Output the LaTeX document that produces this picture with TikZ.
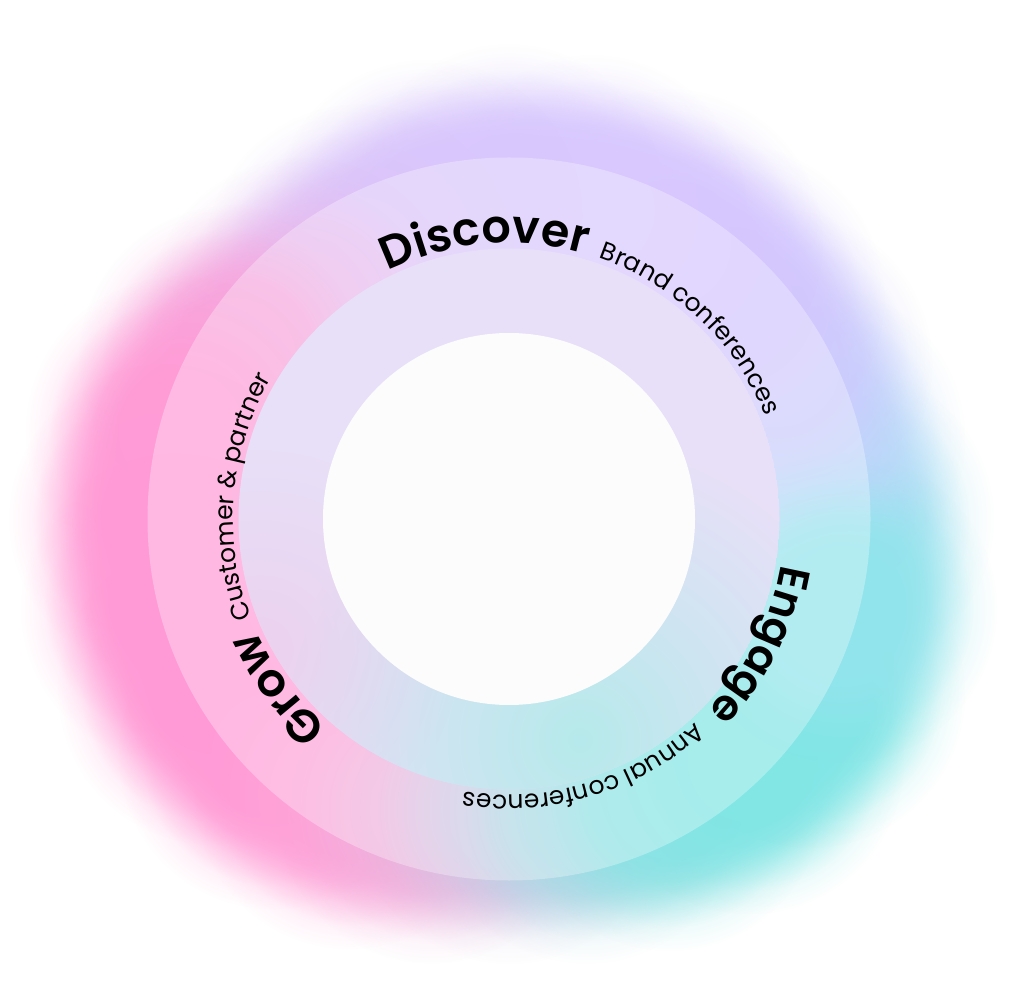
\documentclass[tikz,border=0pt]{standalone}
\usepackage{fontspec}
\setmainfont{Poppins}[BoldFont={Poppins SemiBold}]
\usetikzlibrary{decorations.text,fadings}

\pgfdeclareradialshading{blobsh}{\pgfpointorigin}{color(0bp)=(white); color(10bp)=(white); color(13.75bp)=(white!82!black); color(17.5bp)=(white!45!black); color(21.25bp)=(white!13!black); color(25bp)=(black); color(50bp)=(black)}
\pgfdeclarefading{blob}{\pgfuseshading{blobsh}}
\tikzfading[name=soft, inner color=transparent!0, outer color=transparent!100]

\definecolor{g0}{HTML}{A6E2F2}
\definecolor{g15}{HTML}{BCD8FA}
\definecolor{g30}{HTML}{CCCDFD}
\definecolor{g45}{HTML}{D3C8FE}
\definecolor{g60}{HTML}{D6C7FE}
\definecolor{g75}{HTML}{D8C8FE}
\definecolor{g90}{HTML}{D8C8FE}
\definecolor{g105}{HTML}{D9C7FD}
\definecolor{g120}{HTML}{DCC5FA}
\definecolor{g135}{HTML}{E8BCEF}
\definecolor{g150}{HTML}{F8A6DD}
\definecolor{g165}{HTML}{FF9DD7}
\definecolor{g180}{HTML}{FF9BD6}
\definecolor{g195}{HTML}{FF9AD6}
\definecolor{g210}{HTML}{FF9AD6}
\definecolor{g225}{HTML}{FF9BD6}
\definecolor{g240}{HTML}{FFA2D8}
\definecolor{g255}{HTML}{F2B0DD}
\definecolor{g270}{HTML}{D4C6E4}
\definecolor{g285}{HTML}{ACDAE6}
\definecolor{g300}{HTML}{8CE3E4}
\definecolor{g315}{HTML}{82E6E5}
\definecolor{g330}{HTML}{82E6E6}
\definecolor{g345}{HTML}{92E4EC}
\definecolor{midlav}{HTML}{E8E0F8}
\definecolor{midcyan}{HTML}{B6EAEB}
\definecolor{midpink}{HTML}{EEC8E8}
\definecolor{innerw}{HTML}{FCFCFD}

\newcommand\titlefont{\fontsize{46}{50}\selectfont\bfseries}
\newcommand\titlefontb{\fontsize{43}{50}\selectfont\bfseries}
\newcommand\subfont{\fontsize{25}{30}\selectfont}

\tikzset{
  ringtext/.style={decorate, decoration={text along path, text={#1}, text align=left}},
  overlay disc/.style={fill=white, fill opacity=0.3}
}

\begin{document}
\begin{tikzpicture}[x=1pt,y=1pt]
\useasboundingbox (0,0) rectangle (1024,1007);
\fill[white] (0,0) rectangle (1024,1007);
\begin{scope}[shift={(509,488)}]
  % glow ring
  \foreach \a/\r in {0/330,15/312,30/310,45/312,60/318,75/320,90/320,105/315,120/300,135/292,150/318,165/340,180/345,195/345,210/342,225/333,240/318,255/300,270/290,285/300,300/320,315/340,330/348,345/345}{
    \fill[g\a, path fading=blob] (\a:\r) circle (155);
  }
  % outer disc
  \fill[overlay disc] (0,0) circle (361.5);
  % middle disc
  \begin{scope}
    \clip (0,0) circle (270.5);
    \fill[midlav] (0,0) circle (270.5);
    \fill[midcyan, path fading=soft] (71,-221) circle (300);
    \fill[midpink, path fading=soft, fill opacity=0.6] (-249,-131) circle (200);
  \end{scope}
  % inner disc
  \fill[innerw] (0,0) circle (186);

  % texts
  \path[ringtext={|\titlefont|Discover}] (116:276) arc[start angle=116, end angle=30, radius=276];
  \path[ringtext={|\subfont|Brand conferences}] (71:276) arc[start angle=71, end angle=-10, radius=276];
  \path[ringtext={|\titlefontb|Engage}] (-9.5:276) arc[start angle=-9.5, end angle=-80, radius=276];
  \path[ringtext={|\subfont|Annual conferences}] (-47.5:276) arc[start angle=-47.5, end angle=-130, radius=276];
  \path[ringtext={|\titlefont|Grow}] (229:276) arc[start angle=229, end angle=170, radius=276];
  \path[ringtext={|\subfont|Customer {\&} partner}] (201:276) arc[start angle=201, end angle=120, radius=276];
\end{scope}
\end{tikzpicture}
\end{document}
